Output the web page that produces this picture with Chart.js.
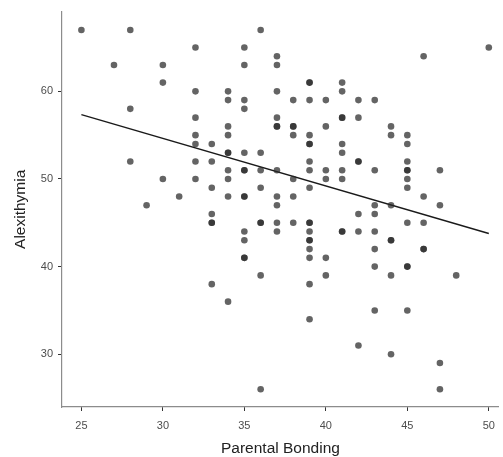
<!DOCTYPE html>
<html>
<head>
  <style>
    body {
      margin: 0;
      padding: 0;
      background: #fff;
      font-family: "Liberation Sans", Arial, sans-serif;
    }
    #wrap {
      width: 503px;
      height: 457px;
      position: relative;
    }
  </style>
  <script src="https://cdn.jsdelivr.net/npm/chart.js"></script>
</head>
<body>
  <div id="wrap">
    <canvas id="chart"></canvas>
  </div>

  <script>
    // Parental Bonding (x) and Alexithymia (y), one entry per participant
    const bonding = [
      25,
      27,
      28, 28, 28,
      29,
      30, 30, 30,
      31,
      32, 32, 32, 32, 32, 32, 32,
      33, 33, 33, 33, 33, 33, 33,
      34, 34, 34, 34, 34, 34, 34, 34, 34, 34,
      35, 35, 35, 35, 35, 35, 35, 35, 35, 35, 35, 35, 35,
      36, 36, 36, 36, 36, 36, 36, 36,
      37, 37, 37, 37, 37, 37, 37, 37, 37, 37, 37,
      38, 38, 38, 38, 38, 38, 38,
      39, 39, 39, 39, 39, 39, 39, 39, 39, 39, 39, 39, 39, 39, 39, 39, 39, 39,
      40, 40, 40, 40, 40, 40,
      41, 41, 41, 41, 41, 41, 41, 41, 41, 41,
      42, 42, 42, 42, 42, 42, 42,
      43, 43, 43, 43, 43, 43, 43, 43,
      44, 44, 44, 44, 44, 44, 44,
      45, 45, 45, 45, 45, 45, 45, 45, 45, 45, 45,
      46, 46, 46, 46, 46,
      47, 47, 47, 47,
      48,
      50
    ];
    const alexithymia = [
      67,
      63,
      67, 58, 52,
      47,
      63, 61, 50,
      48,
      65, 60, 57, 55, 54, 52, 50,
      54, 52, 49, 46, 45, 45, 38,
      60, 59, 56, 55, 53, 53, 51, 50, 48, 36,
      65, 63, 59, 58, 53, 51, 51, 48, 48, 44, 43, 41, 41,
      67, 53, 51, 49, 45, 45, 39, 26,
      64, 63, 60, 57, 56, 56, 51, 48, 47, 45, 44,
      59, 56, 56, 55, 50, 48, 45,
      61, 61, 59, 55, 54, 54, 52, 51, 49, 45, 45, 44, 43, 43, 42, 41, 38, 34,
      59, 56, 51, 50, 41, 39,
      61, 60, 57, 57, 54, 53, 51, 50, 44, 44,
      59, 57, 52, 52, 46, 44, 31,
      59, 51, 47, 46, 44, 42, 40, 35,
      56, 55, 47, 43, 43, 39, 30,
      55, 54, 52, 51, 51, 50, 49, 45, 40, 40, 35,
      64, 48, 45, 42, 42,
      51, 47, 29, 26,
      39,
      65
    ];

    // fitted regression line end points
    const fitX = [25, 50];
    const fitY = [57.35, 43.78];

    const xTicks = [25, 30, 35, 40, 45, 50];
    const yTicks = [30, 40, 50, 60];

    const points = bonding.map((x, i) => ({ x: x, y: alexithymia[i] }));
    const fitLine = fitX.map((x, i) => ({ x: x, y: fitY[i] }));

    const tickFont = { family: "Liberation Sans", size: 11 };
    const titleFont = { family: "Liberation Sans", size: 15.5 };

    const ctx = document.getElementById("chart").getContext("2d");
    const chart = new Chart(ctx, {
      type: "scatter",
      data: {
        datasets: [
          {
            label: "Participants",
            data: points,
            backgroundColor: "rgba(40,40,40,0.72)",
            borderWidth: 0,
            pointRadius: 3.3,
            pointHoverRadius: 3.3,
          },
          {
            label: "Fit",
            type: "line",
            data: fitLine,
            borderColor: "#1a1a1a",
            borderWidth: 1.4,
            pointRadius: 0,
            fill: false,
          },
        ],
      },
      options: {
        responsive: true,
        maintainAspectRatio: false,
        animation: false,
        layout: {
          padding: { top: 10, right: 0, left: 0, bottom: 0 },
        },
        plugins: {
          legend: { display: false },
          tooltip: { enabled: false },
        },
        scales: {
          x: {
            type: "linear",
            min: 23.81,
            max: 50.62,
            afterBuildTicks: function (scale) {
              scale.ticks = xTicks.map(v => ({ value: v }));
            },
            afterFit: function (scale) {
              scale.height = 50;
            },
            grid: {
              drawOnChartArea: false,
              drawTicks: true,
              tickLength: 4,
              tickColor: "#333",
              tickWidth: 1,
            },
            border: { color: "#8c8c8c", width: 1.2 },
            ticks: {
              color: "#4d4d4d",
              font: tickFont,
              padding: 8,
              maxRotation: 0,
            },
            title: {
              display: true,
              text: "Parental Bonding",
              color: "#222",
              font: titleFont,
              padding: { top: 2, bottom: -1.5 },
            },
          },
          y: {
            type: "linear",
            min: 23.98,
            max: 69.1,
            afterBuildTicks: function (scale) {
              scale.ticks = yTicks.map(v => ({ value: v }));
            },
            afterFit: function (scale) {
              scale.width = 62;
            },
            grid: {
              drawOnChartArea: false,
              drawTicks: true,
              tickLength: 4,
              tickColor: "#333",
              tickWidth: 1,
            },
            border: { color: "#8c8c8c", width: 1.2 },
            ticks: {
              color: "#4d4d4d",
              font: tickFont,
              padding: 5,
            },
            title: {
              display: true,
              text: "Alexithymia",
              color: "#222",
              font: titleFont,
              padding: { top: 11.5, bottom: 4 },
            },
          },
        },
      },
    });
  </script>
</body>
</html>
